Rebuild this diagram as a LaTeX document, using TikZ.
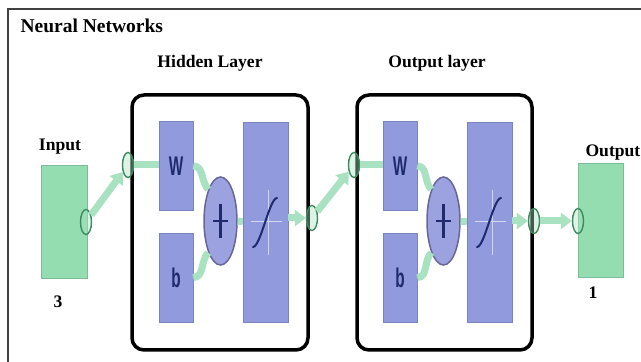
\documentclass[tikz,border=0pt]{standalone}
\usepackage{fontspec}
\setmainfont{Liberation Serif}
\setsansfont{Liberation Sans}
\usetikzlibrary{arrows.meta,shapes.geometric}

\definecolor{blockblue}{HTML}{909ADD}
\definecolor{sumblue}{HTML}{9CA2E0}
\definecolor{iogreen}{HTML}{93DDB1}
\definecolor{linkgreen}{HTML}{A8E2C0}
\definecolor{portgreen}{HTML}{3E8A60}
\definecolor{inkblue}{HTML}{1F2A6E}

\begin{document}
\begin{tikzpicture}[
  x=1pt, y=1pt,
  iobox/.style={fill=iogreen, draw=iogreen!85!black, thin, minimum width=46pt, minimum height=113pt, inner sep=0},
  layerframe/.style={draw=black, line width=3.5pt, rounded corners=12pt, minimum width=176pt, minimum height=255pt, inner sep=0},
  weight/.style={fill=blockblue, draw=blockblue!85!black, thin, minimum width=34pt, minimum height=89pt, inner sep=0,
                 font=\fontsize{18}{18}\sffamily\bfseries, text=inkblue},
  actbox/.style={fill=blockblue, draw=blockblue!85!black, thin, minimum width=45pt, minimum height=200pt, inner sep=0},
  sumnode/.style={ellipse, fill=sumblue, draw=gray!80!blue, line width=1.5pt, minimum width=33pt, minimum height=88pt, inner sep=0},
  port/.style={ellipse, draw=portgreen, line width=1.4pt, fill=linkgreen, fill opacity=0.4, minimum width=11pt, minimum height=25pt, inner sep=0},
  link/.style={draw=linkgreen, line width=7pt},
  feed/.style={link, -{Triangle[length=11pt, width=16pt]}},
  sigline/.style={draw=inkblue, line width=2pt, line cap=round},
  axisline/.style={draw=blockblue!40!white, line width=1pt},
  plusmark/.style={draw=inkblue, line width=2.6pt},
  title/.style={font=\fontsize{19.5}{20}\selectfont\bfseries, anchor=west},
  layerlabel/.style={font=\fontsize{17.6}{18}\selectfont\bfseries},
]
% Units: 1pt = 1 pixel of the 641 x 362 picture, origin bottom left.
\useasboundingbox (0,0) rectangle (641,362);
\fill[white] (0,0) rectangle (641,362);

% ─── Outer frame and title ────────────────────────────────────────────────
\draw[black!75, line width=1.3pt] (8,0) -- (8,353) -- (641,353);
\node[title] (ttl) at (17,336) {Neural Networks};

% ─── Layer frames ─────────────────────────────────────────────────────────
\node[layerframe] (hidfr) at (220,139.5) {};
\node[layerframe, minimum width=175pt] (outfr) at (444.5,139.5) {};
\node[layerlabel] (hidlbl) at (210,299) {Hidden Layer};
\node[layerlabel] (outlbl) at (437,299) {Output layer};

% ─── Input and output ─────────────────────────────────────────────────────
\node[iobox] (inp) at (64,140.5) {};
\node[iobox, minimum width=45pt, minimum height=114pt] (outp) at (600.5,142) {};
\node[layerlabel] (inlbl) at (60,215) {Input};
\node[layerlabel, anchor=east, inner xsep=0.5pt] (outlblr) at (641,209) {Output};
\node[layerlabel] (insz) at (58,60) {3};
\node[layerlabel] (outsz) at (593,69) {1};

% ─── Hidden layer blocks ──────────────────────────────────────────────────
\node[weight] (w1) at (176,196) {\scalebox{0.85}[1.5]{W}};
\node[weight] (b1) at (176,84.5) {\scalebox{0.85}[1.5]{b}};
\node[sumnode] (s1) at (220.5,141) {};
\node[actbox] (a1) at (265.5,140) {};

% ─── Output layer blocks ──────────────────────────────────────────────────
\node[weight] (w2) at (400,196) {\scalebox{0.85}[1.5]{W}};
\node[weight] (b2) at (400,84.5) {\scalebox{0.85}[1.5]{b}};
\node[sumnode] (s2) at (443.5,141) {};
\node[actbox] (a2) at (489.5,140) {};

% Plus signs
\draw[plusmark] ([yshift=-17pt]s1.center) -- ([yshift=17pt]s1.center)
                ([xshift=-7.5pt]s1.center) -- ([xshift=7.5pt]s1.center);
\draw[plusmark] ([yshift=-17pt]s2.center) -- ([yshift=17pt]s2.center)
                ([xshift=-7.5pt]s2.center) -- ([xshift=7.5pt]s2.center);

% Transfer function marks (faint axes, then the curve)
\draw[axisline] ([xshift=-15pt]a1.center) -- ([xshift=16pt]a1.center)
                ([shift={(2.5,-33)}]a1.center) -- ([shift={(2.5,32)}]a1.center);
\draw[sigline] ([shift={(-12.5,-25)}]a1.center) .. controls ([shift={(-5,-25)}]a1.center)
               and ([shift={(4,24)}]a1.center) .. ([shift={(11.5,24)}]a1.center);
\draw[axisline] ([xshift=-15pt]a2.center) -- ([xshift=16pt]a2.center)
                ([shift={(2.5,-33)}]a2.center) -- ([shift={(2.5,32)}]a2.center);
\draw[sigline] ([shift={(-12.5,-25)}]a2.center) .. controls ([shift={(-5,-25)}]a2.center)
               and ([shift={(4,24)}]a2.center) .. ([shift={(11.5,24)}]a2.center);

% ─── Ports ────────────────────────────────────────────────────────────────
\node[port] (p0) at (86,140) {};
\node[port] (p1) at (128,197) {};
\node[port] (p2) at (312,144) {};
\node[port] (p3) at (354,197) {};
\node[port] (p4) at (534,141) {};
\node[port] (p5) at (578,141) {};

% ─── Links ────────────────────────────────────────────────────────────────
\draw[feed] (p0) -- (p1);
\draw[link] (p1.east) -- (p1.east -| w1.west);
\draw[link] (w1.east) to[out=0, in=135] (s1.north west);
\draw[link] (b1.east) to[out=0, in=-135] (s1.south west);
\draw[link] (s1) -- (a1);
\draw[feed] (a1.east |- p2) -- (p2);

\draw[feed] (p2) -- (p3);
\draw[link] (p3.east) -- (p3.east -| w2.west);
\draw[link] (w2.east) to[out=0, in=135] (s2.north west);
\draw[link] (b2.east) to[out=0, in=-135] (s2.south west);
\draw[link] (s2) -- (a2);
\draw[feed] (a2.east |- p4) -- (p4);
\draw[feed] (p4) -- (p5);

\end{tikzpicture}
\end{document}
